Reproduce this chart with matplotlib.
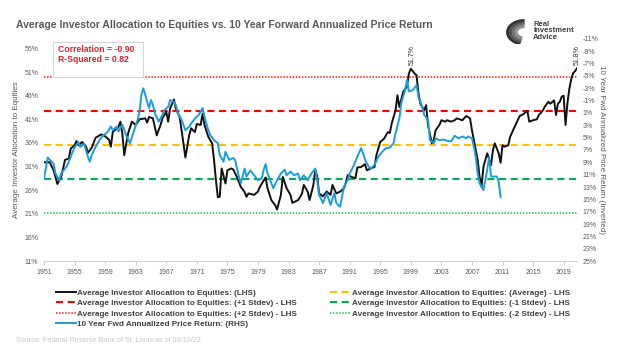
import numpy as np
import matplotlib
matplotlib.use("Agg")
import matplotlib.pyplot as plt
from matplotlib.patches import Rectangle, Arc

plt.rcParams['font.family'] = ['Liberation Sans', 'DejaVu Sans']

# Average investor allocation to equities (LHS), quarterly points
alloc_years = [1951.75, 1952.5, 1953.0, 1953.25, 1953.5, 1954.0, 1954.5, 1955.0, 1955.25, 1955.75,
               1956.0, 1956.25, 1956.75, 1957.25, 1957.5, 1958.0, 1958.5, 1959.25, 1959.75, 1960.25,
               1960.5, 1960.75, 1961.5, 1961.75, 1962.0, 1962.25, 1962.75, 1963.25, 1963.75, 1964.25,
               1965.0, 1965.25, 1965.5, 1966.0, 1966.5, 1967.0, 1967.25, 1967.75, 1968.0, 1968.25,
               1968.75, 1969.0, 1969.5, 1969.75, 1970.0, 1970.25, 1970.75, 1971.0, 1971.5, 1971.75,
               1972.25, 1972.5, 1972.75, 1973.25, 1973.75, 1974.0, 1974.25, 1974.5, 1974.75, 1975.0,
               1975.5, 1975.75, 1976.25, 1976.5, 1977.0, 1977.5, 1978.0, 1978.25, 1978.5, 1978.75,
               1979.25, 1979.75, 1980.0, 1980.75, 1981.0, 1981.5, 1982.0, 1982.25, 1982.75, 1983.0,
               1983.5, 1984.0, 1984.25, 1984.75, 1985.0, 1985.5, 1985.75, 1986.25, 1986.5, 1987.0,
               1987.25, 1987.5, 1987.75, 1988.25, 1988.75, 1989.25, 1989.5, 1990.0, 1990.5, 1991.0,
               1991.25, 1991.5, 1992.0, 1992.5, 1992.75, 1993.25, 1993.75, 1994.0, 1994.5, 1995.0,
               1995.25, 1995.75, 1996.25, 1996.75, 1997.0, 1997.25, 1997.75, 1998.0, 1998.25, 1998.75,
               1999.25, 1999.5, 1999.75, 2000.25, 2000.5, 2000.75, 2001.0, 2001.5, 2001.75, 2002.0,
               2002.5, 2002.75, 2003.0, 2003.5, 2003.75, 2004.25, 2004.5, 2005.0, 2005.5, 2005.75,
               2006.5, 2007.0, 2007.5, 2007.75, 2008.0, 2008.5, 2008.75, 2009.0, 2009.25, 2009.5,
               2009.75, 2010.25, 2010.5, 2010.75, 2011.25, 2011.5, 2011.75, 2012.0, 2012.5, 2012.75,
               2013.25, 2013.75, 2014.0, 2014.5, 2015.0, 2015.25, 2015.75, 2016.25, 2016.5, 2017.0,
               2017.25, 2017.75, 2018.0, 2018.5, 2018.75, 2019.0, 2019.25, 2019.5, 2019.75, 2020.0,
               2020.25, 2020.5, 2020.75, 2021.0, 2021.25, 2021.5]
alloc_pct = [31.9, 31.9, 30.2, 28.8, 27.3, 28.8, 32.4, 32.7, 34.8, 35.5,
             36.4, 35.5, 36.2, 35.2, 33.9, 35.0, 37.1, 37.8, 37.4, 36.7,
             35.2, 38.3, 39.4, 40.5, 38.0, 33.4, 38.0, 40.5, 39.8, 41.0,
             41.2, 40.3, 41.5, 41.2, 37.6, 39.8, 41.2, 42.6, 40.5, 43.3,
             45.2, 43.3, 41.5, 38.7, 35.9, 32.9, 37.6, 39.1, 38.3, 40.0,
             39.8, 42.2, 39.8, 37.3, 35.9, 32.4, 28.1, 24.5, 24.6, 30.6,
             27.4, 30.2, 30.6, 30.4, 28.8, 26.7, 25.6, 24.6, 25.3, 25.2,
             25.0, 25.7, 26.7, 28.7, 26.4, 23.9, 22.8, 21.9, 25.0, 28.8,
             26.4, 25.0, 23.3, 23.7, 23.9, 25.2, 27.1, 25.7, 23.9, 27.1,
             30.2, 29.0, 25.3, 24.7, 25.7, 25.0, 27.1, 25.3, 25.7, 26.4,
             27.6, 29.2, 28.8, 28.5, 30.8, 30.9, 31.5, 30.2, 30.6, 30.9,
             33.4, 36.2, 36.9, 38.3, 38.1, 40.1, 42.9, 46.1, 43.6, 46.8,
             47.9, 50.7, 51.7, 50.7, 50.3, 46.5, 44.3, 42.9, 44.0, 39.8,
             35.9, 36.6, 38.7, 39.8, 40.8, 40.5, 40.8, 40.5, 40.8, 41.2,
             40.8, 41.7, 41.2, 38.7, 36.6, 32.4, 28.8, 26.7, 30.9, 32.4,
             33.8, 31.3, 34.5, 35.9, 33.8, 31.8, 35.5, 35.2, 35.5, 37.3,
             39.1, 40.8, 41.7, 42.1, 42.8, 40.5, 40.8, 41.0, 41.9, 42.8,
             43.6, 44.7, 44.3, 45.0, 41.9, 44.3, 44.7, 45.8, 46.0, 39.8,
             44.5, 47.5, 49.5, 50.8, 51.2, 51.8]

# 10 year forward annualized price return (RHS, inverted)
ret_years = [1951.75, 1952.25, 1952.5, 1953.0, 1953.25, 1953.75, 1954.0, 1954.75, 1955.0, 1955.5,
             1955.75, 1956.25, 1956.5, 1957.0, 1957.5, 1957.75, 1958.0, 1958.5, 1959.0, 1959.5,
             1960.0, 1960.5, 1960.75, 1961.25, 1961.5, 1962.0, 1962.5, 1963.0, 1963.5, 1964.0,
             1964.25, 1964.5, 1964.75, 1965.0, 1965.5, 1965.75, 1966.0, 1966.25, 1966.75, 1967.25,
             1967.5, 1968.0, 1968.25, 1968.75, 1969.0, 1969.25, 1969.75, 1970.25, 1970.75, 1971.0,
             1971.5, 1972.0, 1972.5, 1972.75, 1973.25, 1973.5, 1974.0, 1974.5, 1974.75, 1975.25,
             1975.5, 1976.0, 1976.5, 1976.75, 1977.25, 1977.5, 1978.0, 1978.25, 1978.75, 1979.25,
             1979.75, 1980.25, 1980.5, 1980.75, 1981.0, 1981.5, 1981.75, 1982.25, 1982.75, 1983.25,
             1983.5, 1984.0, 1984.5, 1985.0, 1985.25, 1985.75, 1986.25, 1986.75, 1987.25, 1987.5,
             1987.75, 1988.25, 1988.75, 1989.25, 1989.75, 1990.0, 1990.5, 1991.0, 1991.5, 1991.75,
             1992.25, 1992.75, 1993.25, 1993.5, 1993.75, 1994.25, 1994.5, 1995.0, 1995.5, 1996.0,
             1996.5, 1997.0, 1997.5, 1997.75, 1998.25, 1998.5, 1999.0, 1999.25, 1999.5, 2000.0,
             2000.5, 2000.75, 2001.25, 2001.5, 2002.0, 2002.25, 2002.75, 2003.0, 2003.5, 2004.0,
             2004.5, 2005.0, 2005.5, 2005.75, 2006.0, 2006.5, 2007.0, 2007.25, 2007.75, 2008.0,
             2008.25, 2008.5, 2008.75, 2009.25, 2009.5, 2009.75, 2010.0, 2010.25, 2011.0, 2011.25,
             2011.5]
ret_pct = [11.6, 8.2, 8.6, 9.2, 10.8, 11.9, 10.8, 9.6, 8.9, 7.3,
           6.6, 5.7, 6.5, 6.0, 8.1, 8.9, 7.8, 6.5, 5.4, 4.6,
           4.2, 3.2, 3.8, 3.2, 4.0, 2.9, 4.6, 5.9, 4.0, 2.1,
           0.8, -2.0, -3.0, -1.9, 0.2, -1.1, -0.3, 1.0, 2.4, 1.3,
           0.5, 0.0, -1.1, -0.8, -0.3, 1.0, 2.1, 3.8, 3.2, 2.7,
           1.9, 1.3, 0.2, 1.6, 3.8, 4.6, 5.4, 5.9, 7.8, 8.9,
           7.3, 8.6, 8.3, 8.6, 11.3, 12.4, 10.0, 11.3, 10.3, 11.1,
           11.9, 11.6, 10.2, 9.3, 10.8, 12.4, 13.2, 11.9, 10.8, 10.2,
           11.1, 10.5, 11.1, 10.8, 11.9, 11.1, 11.9, 10.8, 10.0, 11.9,
           14.3, 15.6, 14.0, 15.9, 14.0, 15.6, 16.2, 12.9, 11.9, 10.8,
           9.6, 8.1, 6.7, 7.5, 8.6, 9.7, 10.0, 9.4, 8.1, 7.3,
           6.7, 6.6, 5.9, 4.3, 1.9, -0.6, -2.7, -4.4, -2.5, -2.7,
           -3.5, -1.6, 0.0, 1.3, 2.1, 5.4, 5.9, 5.1, 5.4, 5.3,
           5.5, 5.6, 4.7, 4.9, 5.1, 4.8, 5.1, 4.8, 5.1, 6.5,
           8.1, 10.8, 12.4, 13.5, 11.9, 10.2, 8.1, 11.3, 11.3, 12.1,
           14.6]

# reference lines on the allocation (LHS)
alloc_mean = 35.5
alloc_std = 7.2

left_ticks = [11, 16, 21, 26, 31, 36, 41, 46, 51, 56]
right_ticks = list(range(-11, 26, 2))
year_labels = list(range(1951, 2020, 4))

gray = '#595959'
fig = plt.figure(figsize=(6.24, 3.51), dpi=100)
ax = fig.add_axes([0.0705, 0.2564, 0.8542, 0.6325])
ax2 = ax.twinx()

dash = (3.4, 2.2)
black_line, = ax.plot(alloc_years, alloc_pct, color='#111111', lw=1.4, zorder=5)
l_p1 = ax.axhline(alloc_mean + alloc_std, color='#ff0000', lw=1.5, dashes=dash)
l_p2 = ax.axhline(alloc_mean + 2 * alloc_std, color='#ff3030', lw=1.3, dashes=(0.8, 0.9))
l_avg = ax.axhline(alloc_mean, color='#ffc000', lw=1.5, dashes=dash)
l_m1 = ax.axhline(alloc_mean - alloc_std, color='#00b050', lw=1.5, dashes=dash)
l_m2 = ax.axhline(alloc_mean - 2 * alloc_std, color='#33cc66', lw=1.3, dashes=(0.8, 0.9))
blue_line, = ax2.plot(ret_years, ret_pct, color='#1a9de0', lw=1.4)

ax.set_xlim(1951.75, 2021.5)
ax.set_ylim(11, 58)
ax2.set_ylim(25, -11)

ax.set_yticks(left_ticks)
ax.set_yticklabels([f'{t}%' for t in left_ticks])
ax2.set_yticks(right_ticks)
ax2.set_yticklabels([f'{t}%' for t in right_ticks])
ax.set_xticks([y + 0.75 for y in year_labels])
ax.set_xticklabels([str(y) for y in year_labels])

for a in (ax, ax2):
    for s in a.spines.values():
        s.set_visible(False)
    a.tick_params(axis='y', length=0, labelsize=5, labelcolor=gray, pad=4)
ax.spines['bottom'].set_visible(True)
ax.spines['bottom'].set_color('#d0d0d0')
ax.tick_params(axis='x', length=3, color='#d0d0d0', labelsize=5, labelcolor=gray, pad=3)

ax.set_ylabel('Average Investor Allocation to Equities', fontsize=5.8, color=gray, labelpad=3)
ax2.set_ylabel('10 Year Fwd Annualized Price Return (Inverted)', fontsize=5.8, color=gray,
               rotation=-90, labelpad=5)

# peak labels
ax.text(2000.0, 52.6, '51.7%', rotation=90, fontsize=5, color='#333333', ha='center', va='bottom')
ax.text(2021.5, 52.6, '51.8%', rotation=90, fontsize=5, color='#333333', ha='center', va='bottom')

# correlation box
fig.patches.append(Rectangle((53 / 624, 1 - 77 / 351), 90 / 624, 35 / 351, transform=fig.transFigure,
                             fc='white', ec='#d8d8d8', lw=0.8, zorder=3))
fig.text(58 / 624, 1 - 49 / 351, 'Correlation = -0.90', fontsize=6.2, color='#e0202a',
         fontweight='bold', va='center', ha='left', zorder=4)
fig.text(58 / 624, 1 - 59.5 / 351, 'R-Squared = 0.82', fontsize=6.2, color='#e0202a',
         fontweight='bold', va='center', ha='left', zorder=4)

fig.text(0.025, 0.93, 'Average Investor Allocation to Equities vs. 10 Year Forward Annualized Price Return',
         fontsize=7.5, fontweight='bold', color=gray, ha='left', va='center')

# logo: simple grey swoosh + name
logo = fig.add_axes([505 / 624, 1 - 44 / 351, 26 / 624, 26 / 351])
logo.set_xlim(0, 1)
logo.set_ylim(0, 1)
logo.axis('off')
for i, c in enumerate(['#303030', '#505050', '#707070', '#909090']):
    logo.add_patch(Arc((0.75, 0.45), 1.3 - 0.22 * i, 0.9 - 0.15 * i, theta1=90, theta2=250,
                       color=c, lw=2.2))
fig.text(533 / 624, 1 - 31 / 351, 'Real\nInvestment\nAdvice', fontsize=5.5, fontweight='bold',
         color='#404040', ha='left', va='center', linespacing=0.95)

handles = [black_line, l_p1, l_p2, blue_line, l_avg, l_m1, l_m2]
labels = ['Average Investor Allocation to Equities: (LHS)',
          'Average Investor Allocation to Equities: (+1 Stdev) - LHS',
          'Average Investor Allocation to Equities: (+2 Stdev) - LHS',
          '10 Year Fwd Annualized Price Return: (RHS)',
          'Average Investor Allocation to Equities: (Average) - LHS',
          'Average Investor Allocation to Equities: (-1 Stdev) - LHS',
          'Average Investor Allocation to Equities: (-2 Stdev) - LHS']
leg = fig.legend(handles, labels, loc='upper left', bbox_to_anchor=(0.083, 0.188), ncol=2,
                 frameon=False, prop={'size': 5.87, 'weight': 'bold'}, handlelength=2.5,
                 handletextpad=0.15, columnspacing=4.0, labelspacing=0.33, borderpad=0)
for t in leg.get_texts():
    t.set_color('#404040')

fig.text(0.025, 0.03, 'Source: Federal Reserve Bank of St. Louis as of 03/10/22.', fontsize=5.2,
         color='#c8c8c8', ha='left', va='center')

fig.savefig('out.png', dpi=100)
